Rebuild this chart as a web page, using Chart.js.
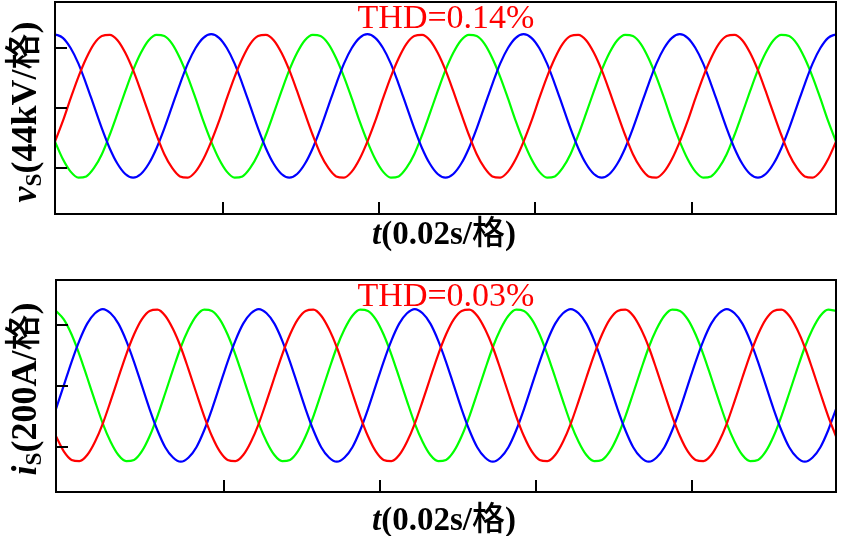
<!DOCTYPE html>
<html>
<head>
<meta charset="utf-8">
<script src="https://cdn.jsdelivr.net/npm/chart.js@4.4.0/dist/chart.umd.min.js"></script>
<style>
  html, body { margin: 0; padding: 0; background: #fff; }
  body { width: 841px; height: 536px; position: relative; overflow: hidden; }
  .box { position: absolute; left: 0; width: 841px; }
  .txt { position: absolute; font-family: "Liberation Serif", "Times New Roman", "Noto Sans CJK SC", serif; white-space: nowrap; line-height: 1; color: #000; }
  .thd { color: #ff0000; font-size: 34px; left: 446px; transform: translateX(-50%); }
  .xt { font-size: 33px; font-weight: 700; left: 444px; transform: translateX(-50%); }
  .yt { font-size: 36px; font-weight: 700; transform: translate(-50%, -50%) rotate(-90deg); }
  .yt sub { font-size: 0.65em; vertical-align: -0.2em; }
  .cjk { font-family: "Noto Sans CJK SC", sans-serif; font-weight: 500; }
</style>
</head>
<body>
<div class="box" style="top:0;height:250px;"><canvas id="c1" width="841" height="250"></canvas></div>
<div class="box" style="top:260px;height:260px;"><canvas id="c2" width="841" height="260"></canvas></div>

<div class="txt thd" style="top:0px;">THD=0.14%</div>
<div class="txt thd" style="top:278px;">THD=0.03%</div>
<div class="txt xt" style="top:214px;"><i>t</i>(0.02s/<span class="cjk">格</span>)</div>
<div class="txt xt" style="top:500px;"><i>t</i>(0.02s/<span class="cjk">格</span>)</div>
<div class="txt yt" style="left:24px;top:112px;"><i>v</i><sub>S</sub>(44kV/<span class="cjk">格</span>)</div>
<div class="txt yt" style="left:24px;top:389px;"><i>i</i><sub>S</sub>(200A/<span class="cjk">格</span>)</div>

<script>
// time samples (ms), one every 1 ms
const timeMs = [0,1,2,3,4,5,6,7,8,9,10,11,12,13,14,15,16,17,18,19,20,21,22,23,24,25,26,27,28,29,30,31,32,33,34,35,36,37,38,39,40,41,42,43,44,45,46,47,48,49,50,51,52,53,54,55,56,57,58,59,60,61,62,63,64,65,66,67,68,69,70,71,72,73,74,75,76,77,78,79,80,81,82,83,84,85,86,87,88,89,90,91,92,93,94,95,96,97,98,99,100];

// voltage (units of 44 kV per division)
const vBlue = [
  1.23,1.17,1.00,0.74,0.40,0.03,-0.34,-0.67,-0.93,-1.10,-1.16,-1.10,-0.93,-0.67,-0.34,0.03,0.40,0.74,1.00,1.17,
  1.23,1.17,1.00,0.74,0.40,0.03,-0.34,-0.67,-0.93,-1.10,-1.16,-1.10,-0.93,-0.67,-0.34,0.03,0.40,0.74,1.00,1.17,
  1.23,1.17,1.00,0.74,0.40,0.03,-0.34,-0.67,-0.93,-1.10,-1.16,-1.10,-0.93,-0.67,-0.34,0.03,0.40,0.74,1.00,1.17,
  1.23,1.17,1.00,0.74,0.40,0.03,-0.34,-0.67,-0.93,-1.10,-1.16,-1.10,-0.93,-0.67,-0.34,0.03,0.40,0.74,1.00,1.17,
  1.23,1.17,1.00,0.74,0.40,0.03,-0.34,-0.67,-0.93,-1.10,-1.16,-1.10,-0.93,-0.67,-0.34,0.03,0.40,0.74,1.00,1.17,
  1.23];
const vRed = [
  -0.56,-0.22,0.16,0.52,0.83,1.07,1.20,1.22,1.13,0.92,0.63,0.28,-0.09,-0.45,-0.77,-1.00,-1.14,-1.16,-1.06,-0.85,
  -0.56,-0.22,0.16,0.52,0.83,1.07,1.20,1.22,1.13,0.92,0.63,0.28,-0.09,-0.45,-0.77,-1.00,-1.14,-1.16,-1.06,-0.85,
  -0.56,-0.22,0.16,0.52,0.83,1.07,1.20,1.22,1.13,0.92,0.63,0.28,-0.09,-0.45,-0.77,-1.00,-1.14,-1.16,-1.06,-0.85,
  -0.56,-0.22,0.16,0.52,0.83,1.07,1.20,1.22,1.13,0.92,0.63,0.28,-0.09,-0.45,-0.77,-1.00,-1.14,-1.16,-1.06,-0.85,
  -0.56,-0.22,0.16,0.52,0.83,1.07,1.20,1.22,1.13,0.92,0.63,0.28,-0.09,-0.45,-0.77,-1.00,-1.14,-1.16,-1.06,-0.85,
  -0.56];
const vGreen = [
  -0.56,-0.85,-1.06,-1.16,-1.14,-1.00,-0.77,-0.45,-0.09,0.28,0.63,0.92,1.13,1.22,1.20,1.07,0.83,0.52,0.16,-0.22,
  -0.56,-0.85,-1.06,-1.16,-1.14,-1.00,-0.77,-0.45,-0.09,0.28,0.63,0.92,1.13,1.22,1.20,1.07,0.83,0.52,0.16,-0.22,
  -0.56,-0.85,-1.06,-1.16,-1.14,-1.00,-0.77,-0.45,-0.09,0.28,0.63,0.92,1.13,1.22,1.20,1.07,0.83,0.52,0.16,-0.22,
  -0.56,-0.85,-1.06,-1.16,-1.14,-1.00,-0.77,-0.45,-0.09,0.28,0.63,0.92,1.13,1.22,1.20,1.07,0.83,0.52,0.16,-0.22,
  -0.56,-0.85,-1.06,-1.16,-1.14,-1.00,-0.77,-0.45,-0.09,0.28,0.63,0.92,1.13,1.22,1.20,1.07,0.83,0.52,0.16,-0.22,
  -0.56];

// current (units of 200 A per division)
const iBlue = [
  -0.38,0.01,0.40,0.75,1.03,1.20,1.27,1.20,1.03,0.75,0.40,0.01,-0.38,-0.73,-1.01,-1.18,-1.25,-1.18,-1.01,-0.73,
  -0.38,0.01,0.40,0.75,1.03,1.20,1.27,1.20,1.03,0.75,0.40,0.01,-0.38,-0.73,-1.01,-1.18,-1.25,-1.18,-1.01,-0.73,
  -0.38,0.01,0.40,0.75,1.03,1.20,1.27,1.20,1.03,0.75,0.40,0.01,-0.38,-0.73,-1.01,-1.18,-1.25,-1.18,-1.01,-0.73,
  -0.38,0.01,0.40,0.75,1.03,1.20,1.27,1.20,1.03,0.75,0.40,0.01,-0.38,-0.73,-1.01,-1.18,-1.25,-1.18,-1.01,-0.73,
  -0.38,0.01,0.40,0.75,1.03,1.20,1.27,1.20,1.03,0.75,0.40,0.01,-0.38,-0.73,-1.01,-1.18,-1.25,-1.18,-1.01,-0.73,
  -0.38];
const iRed = [
  -0.83,-1.08,-1.22,-1.24,-1.14,-0.92,-0.62,-0.25,0.14,0.52,0.85,1.10,1.24,1.26,1.16,0.94,0.64,0.27,-0.12,-0.50,
  -0.83,-1.08,-1.22,-1.24,-1.14,-0.92,-0.62,-0.25,0.14,0.52,0.85,1.10,1.24,1.26,1.16,0.94,0.64,0.27,-0.12,-0.50,
  -0.83,-1.08,-1.22,-1.24,-1.14,-0.92,-0.62,-0.25,0.14,0.52,0.85,1.10,1.24,1.26,1.16,0.94,0.64,0.27,-0.12,-0.50,
  -0.83,-1.08,-1.22,-1.24,-1.14,-0.92,-0.62,-0.25,0.14,0.52,0.85,1.10,1.24,1.26,1.16,0.94,0.64,0.27,-0.12,-0.50,
  -0.83,-1.08,-1.22,-1.24,-1.14,-0.92,-0.62,-0.25,0.14,0.52,0.85,1.10,1.24,1.26,1.16,0.94,0.64,0.27,-0.12,-0.50,
  -0.83];
const iGreen = [
  1.24,1.10,0.85,0.52,0.14,-0.25,-0.62,-0.92,-1.14,-1.24,-1.22,-1.08,-0.83,-0.50,-0.12,0.27,0.64,0.94,1.16,1.26,
  1.24,1.10,0.85,0.52,0.14,-0.25,-0.62,-0.92,-1.14,-1.24,-1.22,-1.08,-0.83,-0.50,-0.12,0.27,0.64,0.94,1.16,1.26,
  1.24,1.10,0.85,0.52,0.14,-0.25,-0.62,-0.92,-1.14,-1.24,-1.22,-1.08,-0.83,-0.50,-0.12,0.27,0.64,0.94,1.16,1.26,
  1.24,1.10,0.85,0.52,0.14,-0.25,-0.62,-0.92,-1.14,-1.24,-1.22,-1.08,-0.83,-0.50,-0.12,0.27,0.64,0.94,1.16,1.26,
  1.24,1.10,0.85,0.52,0.14,-0.25,-0.62,-0.92,-1.14,-1.24,-1.22,-1.08,-0.83,-0.50,-0.12,0.27,0.64,0.94,1.16,1.26,
  1.24];

// tick positions (no labels)
const xTicks = [21.5, 41.5, 61.5, 81.5];
const yTicks = [-1, 0, 1];

const frameTicks = {
  id: 'frameTicks',
  afterDraw(chart) {
    const ctx = chart.ctx, a = chart.chartArea;
    const xs = chart.scales.x, ys = chart.scales.y;
    ctx.save();
    ctx.strokeStyle = '#000';
    ctx.lineWidth = 2;
    ctx.strokeRect(a.left, a.top, a.right - a.left, a.bottom - a.top);
    ctx.beginPath();
    yTicks.forEach(v => {
      const py = Math.round(ys.getPixelForValue(v));
      ctx.moveTo(a.left, py); ctx.lineTo(a.left + 12, py);
    });
    xTicks.forEach(v => {
      const px = Math.round(xs.getPixelForValue(v));
      ctx.moveTo(px, a.bottom); ctx.lineTo(px, a.bottom - 12);
    });
    ctx.stroke();
    ctx.restore();
  }
};

function toXY(arr) { return arr.map((y, i) => ({ x: timeMs[i], y })); }

function makeChart(id, blue, red, green, yMin, yMax, pad) {
  const ds = (data, color) => ({ data: toXY(data), borderColor: color, borderWidth: 2.2, pointRadius: 0, cubicInterpolationMode: 'monotone', fill: false });
  return new Chart(document.getElementById(id), {
    type: 'line',
    data: { datasets: [ds(red, '#ff0000'), ds(blue, '#0000ff'), ds(green, '#00ff00')] },
    options: {
      responsive: false, animation: false, events: [],
      layout: { padding: pad },
      plugins: { legend: { display: false }, tooltip: { enabled: false }, title: { display: false } },
      scales: {
        x: { type: 'linear', min: 0, max: 100, display: false },
        y: { type: 'linear', min: yMin, max: yMax, display: false }
      }
    },
    plugins: [frameTicks]
  });
}

makeChart('c1', vBlue, vRed, vGreen, -1.767, 1.767, { left: 55, top: 2, right: 5, bottom: 36 });
makeChart('c2', iBlue, iRed, iGreen, -1.75, 1.75, { left: 56, top: 20, right: 5, bottom: 28 });
</script>
</body>
</html>
